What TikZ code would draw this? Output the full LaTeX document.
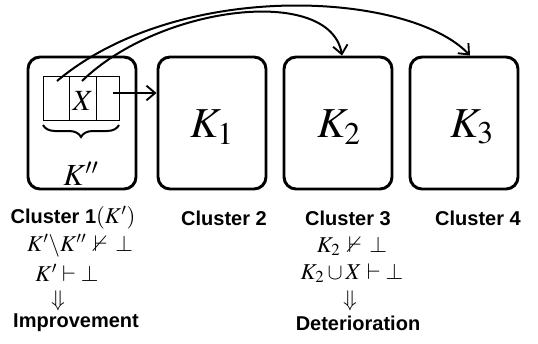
\RequirePackage{fix-cm}
\documentclass[tikz,border=0pt]{standalone}
\usepackage{amssymb}
\usepackage{mathptmx}
\usepackage[no-math]{fontspec}
\setsansfont{Liberation Sans}
\usetikzlibrary{arrows.meta,decorations.pathreplacing}

\begin{document}
\begin{tikzpicture}[x=0.75pt,y=-0.75pt,
  clusterbox/.style={draw, line width=2.2pt, rounded corners=9pt,
    minimum width=81pt, minimum height=99pt, inner sep=0pt},
  cell/.style={draw, line width=0.6pt, minimum width=20pt, minimum height=33pt, inner sep=0pt},
  link/.style={line width=1.5pt, -{Straight Barb[length=6.5pt,width=11pt,line width=1.4pt]}},
  title/.style={font=\sffamily\bfseries\fontsize{15}{17}\selectfont, inner sep=0pt},
  formula/.style={font=\fontsize{17}{19}\selectfont, inner sep=0pt},
  bigk/.style={font=\fontsize{32}{32}\selectfont, inner sep=0pt}]
\useasboundingbox (0,0) rectangle (538,343);

% the four clusters
\node[clusterbox] (box1) at (82,123) {};
\node[clusterbox] (box2) at (212,123) {};
\node[clusterbox] (box3) at (338,123) {};
\node[clusterbox] (box4) at (464,123) {};

\node[bigk] (k1) at (212,127) {$K_1$};
\node[bigk] (k2) at (339,127) {$K_2$};
\node[bigk] (k3) at (472,127) {$K_3$};

% the three cells of K''
\node[cell, minimum width=19.5pt] (c1) at (56,98) {};
\node[cell, minimum width=20.25pt] (c2) at (82.5,98) {};
\node[cell, minimum width=17.25pt] (c3) at (107.5,98) {};
\node[font=\fontsize{22}{22}\selectfont, inner sep=0pt] (x) at (83,101) {$X$};

\draw[decorate, decoration={brace, mirror, amplitude=9pt}, line width=1.5pt]
  (43,125) -- (119,125);
\node[font=\fontsize{23}{23}\selectfont, inner sep=0pt] (kpp) at (81,174) {$K''$};

% connectors
\coordinate (s1) at (57,81);
\coordinate (s2) at (82,81);
\coordinate (s3) at (113,93);
\draw[link] (s3) -- (s3 -| box2.west);
\draw[link] (s1) .. controls (180,-22) and (410,-8) .. ([xshift=4.5pt]box4.north);
\draw[link] (s2) .. controls (160,5) and (330,-15) .. ([xshift=3pt]box3.north);

% labels below the clusters
\node[title] (t1) at (73,218) {Cluster 1\textmd{\fontsize{17}{19}\selectfont$(K')$}};
\node[title] (t2) at (224,218) {Cluster 2};
\node[title] (t3) at (348,218) {Cluster 3};
\node[title] (t4) at (478,218) {Cluster 4};

\node[formula] (f1) at (80,246) {$K'\backslash K''\,\nvdash\,\bot$};
\node[formula] (f2) at (67,273) {$K'\vdash\bot$};
\node[formula] (d1) at (58,301) {$\Downarrow$};
\node[title] (r1) at (76,323) {Improvement};

\node[formula] (f3) at (352,246) {$K_2\,\nvdash\,\bot$};
\node[formula] (f4) at (352,273) {$K_2\cup X\vdash\bot$};
\node[formula] (d2) at (350,301) {$\Downarrow$};
\node[title] (r2) at (358,323) {Deterioration};
\end{tikzpicture}
\end{document}
